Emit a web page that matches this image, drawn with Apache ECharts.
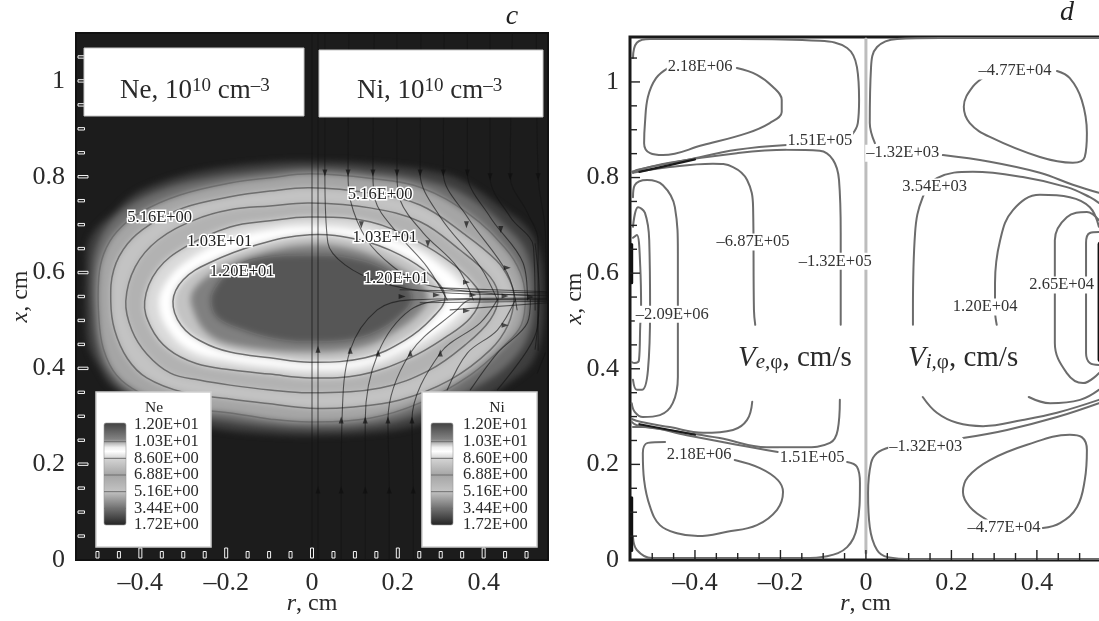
<!DOCTYPE html>
<html><head><meta charset="utf-8">
<script src="https://cdn.jsdelivr.net/npm/echarts@6/dist/echarts.min.js"></script>
<style>
html,body{margin:0;padding:0;background:#fff;overflow:hidden}
#page{position:relative;width:1099px;height:621px;background:#fff;overflow:hidden}
#fieldWrap{position:absolute;left:76px;top:33px;width:472px;height:527px;background:#1c1c1c;overflow:hidden}
#fieldChart{width:472px;height:527px;filter:blur(3px)}
#main{position:absolute;left:0;top:0;width:1099px;height:621px}
</style></head><body>
<div id="page"><div id="fieldWrap"><div id="fieldChart"></div></div><div id="main"></div></div>
<script>
// ---------- axis values ----------
const rTickLabels=[-0.4,-0.2,0,0.2,0.4];
const xTickLabels=[0,0.2,0.4,0.6,0.8,1];
const rMinorTicks=[-0.5,-0.45,-0.35,-0.3,-0.25,-0.15,-0.1,-0.05,0.05,0.1,0.15,0.25,0.3,0.35,0.45,0.5];
const xMinorTicks=[0.05,0.1,0.15,0.25,0.3,0.35,0.45,0.5,0.55,0.65,0.7,0.75,0.85,0.9,0.95,1.05];

// ---------- panel c: density contours (r, x), outermost first ----------
const ringO=[[0,.832],[-.105,.829],[-.245,.814],[-.338,.793],[-.417,.762],[-.464,.724],[-.5,.695],[-.522,.66],[-.527,.6],[-.527,.5],[-.522,.45],[-.5,.407],[-.464,.361],[-.35,.305],[-.231,.275],[-.105,.263],[0,.26],[.13,.265],[.25,.282],[.38,.33],[.478,.382],[.515,.415],[.535,.47],[.54,.55],[.53,.64],[.5,.695],[.44,.737],[.36,.787],[.3,.808],[.15,.826]];
const ringOa=[[0,.818],[-.098,.813],[-.245,.797],[-.338,.777],[-.417,.745],[-.465,.71],[-.497,.665],[-.511,.61],[-.511,.52],[-.5,.44],[-.475,.39],[-.43,.35],[-.33,.31],[-.2,.29],[-.1,.279],[0,.274],[.13,.28],[.25,.305],[.38,.36],[.46,.41],[.505,.47],[.518,.55],[.505,.63],[.47,.68],[.36,.76],[.25,.795],[.13,.81]];
const ringL1=[[-.005,.806],[-.098,.798],[-.191,.787],[-.308,.762],[-.401,.725],[-.455,.685],[-.485,.64],[-.497,.59],[-.497,.507],[-.486,.44],[-.455,.385],[-.401,.349],[-.308,.319],[-.191,.307],[-.098,.294],[-.005,.288],[.135,.296],[.252,.328],[.369,.386],[.45,.449],[.488,.491],[.497,.549],[.485,.601],[.45,.651],[.369,.72],[.252,.778],[.135,.797]];
const ringL2=[[-.005,.777],[-.098,.77],[-.191,.758],[-.3,.735],[-.378,.7],[-.43,.66],[-.462,.606],[-.469,.54],[-.46,.48],[-.43,.42],[-.385,.38],[-.3,.35],[-.191,.336],[-.098,.326],[-.005,.317],[.089,.319],[.205,.334],[.322,.376],[.415,.438],[.457,.491],[.471,.549],[.46,.585],[.43,.625],[.357,.679],[.252,.741],[.135,.766]];
const ringL3=[[-.005,.745],[-.098,.739],[-.191,.731],[-.273,.71],[-.359,.668],[-.412,.612],[-.434,.54],[-.42,.48],[-.385,.43],[-.33,.39],[-.26,.375],[-.191,.365],[-.098,.355],[-.005,.349],[.159,.359],[.275,.397],[.357,.449],[.415,.501],[.434,.549],[.415,.591],[.345,.647],[.252,.706],[.135,.735]];
const ringL4=[[-.005,.716],[-.098,.708],[-.191,.695],[-.294,.654],[-.36,.606],[-.39,.54],[-.375,.485],[-.335,.44],[-.27,.41],[-.191,.397],[-.098,.388],[-.005,.38],[.112,.386],[.229,.422],[.31,.464],[.369,.505],[.392,.549],[.373,.58],[.322,.622],[.252,.662],[.135,.706]];
const ringW=[[-.005,.697],[-.1,.69],[-.2,.668],[-.29,.625],[-.34,.58],[-.357,.535],[-.335,.48],[-.28,.435],[-.19,.415],[-.1,.404],[-.005,.397],[.11,.403],[.22,.44],[.3,.48],[.35,.52],[.365,.549],[.35,.575],[.3,.615],[.24,.65],[.13,.685]];
const ringL5=[[-.005,.679],[-.128,.658],[-.24,.62],[-.3,.585],[-.324,.54],[-.305,.49],[-.255,.455],[-.191,.434],[-.098,.422],[-.005,.413],[.124,.422],[.217,.459],[.28,.505],[.31,.549],[.275,.595],[.205,.637],[.112,.668]];
const ringM=[[-.005,.658],[-.12,.64],[-.22,.605],[-.275,.565],[-.28,.53],[-.24,.47],[-.16,.445],[-.005,.434],[.12,.445],[.2,.48],[.255,.52],[.27,.549],[.25,.58],[.18,.62],[.09,.65]];
const ringL6=[[-.005,.637],[-.137,.628],[-.19,.605],[-.225,.57],[-.236,.54],[-.22,.505],[-.161,.48],[-.09,.462],[-.005,.455],[.112,.464],[.194,.501],[.233,.549],[.182,.601],[.089,.631]];
const fieldRings=[ringO,ringOa,ringL1,ringL2,ringL3,ringL4,ringW,ringL5,ringM,ringL6];
const fieldGrays=[62,108,165,195,178,218,255,195,128,86];
const contourRings=[ringL1,ringL2,ringL3,ringL4,ringL5,ringL6];

// panel c: streamlines (r, x)
const streamA=[[0,1.1],[0,0]];
const streamB=[[.014,1.1],[.014,0]];
const streamC=[[.03,1.1],[.03,.808],[.037,.662],[.077,.616],[.159,.58],[.275,.56],[.551,.553]];
const streamD=[[.086,1.1],[.084,.808],[.089,.752],[.128,.668],[.189,.612],[.252,.578],[.369,.56],[.551,.551]];
const streamE=[[.145,1.1],[.142,.808],[.147,.752],[.198,.683],[.268,.612],[.315,.543]];
const streamF=[[.198,1.1],[.198,.808],[.205,.752],[.259,.683],[.338,.612],[.376,.543]];
const streamG=[[.254,1.1],[.252,.808],[.299,.716],[.392,.612],[.432,.543]];
const streamH=[[.308,1.1],[.306,.808],[.362,.716],[.455,.599],[.478,.522]];
const streamI=[[.362,1.1],[.362,.808],[.415,.716],[.492,.62],[.502,.543]];
const streamJ=[[.415,1.1],[.415,.8],[.462,.716],[.516,.654],[.52,.522]];
const streamK=[[.467,1.1],[.462,.8],[.502,.725],[.527,.668],[.527,.438]];
const streamL=[[.523,1.1],[.527,.8],[.544,.683],[.546,.543]];
const streamM=[[.068,0],[.068,.146],[.07,.292],[.089,.438],[.152,.522],[.229,.543],[.551,.547]];
const streamN=[[.124,0],[.124,.146],[.124,.292],[.154,.432],[.229,.522],[.322,.543],[.551,.545]];
const streamP=[[.18,0],[.18,.146],[.177,.292],[.229,.432],[.338,.522],[.369,.543],[.551,.543]];
const streamQ=[[.236,0],[.236,.146],[.233,.292],[.299,.432],[.392,.495],[.432,.543]];
const streamR=[[.315,.355],[.362,.432],[.432,.48],[.474,.543]];
const streamS=[[.369,.355],[.432,.432],[.502,.495],[.509,.543]];
const streamT=[[.432,.355],[.502,.438],[.525,.486],[.527,.543]];
const streamU=[[.525,.39],[.544,.432]];
const streamV=[[.205,.564],[.551,.557]];
const streamW=[[.299,.568],[.551,.56]];
const streamX=[[.252,.537],[.551,.54]];
const streamY=[[.322,.522],[.551,.537]];
const streamZ=[[.52,.66],[.53,.55],[.52,.44]];
const streams=[streamA,streamB,streamC,streamD,streamE,streamF,streamG,streamH,streamI,streamJ,streamK,streamL,streamM,streamN,streamP,streamQ,streamR,streamS,streamT,streamU,streamV,streamW,streamX,streamY,streamZ];
const arrowsDown=[[.03,.808],[.084,.808],[.142,.808],[.198,.808],[.252,.808],[.306,.808],[.362,.808],[.415,.8],[.462,.8],[.527,.8],[.115,.7],[.27,.66],[.36,.7],[.44,.69]];
const arrowsUp=[[.014,.146],[.068,.146],[.124,.146],[.18,.146],[.236,.146],[.068,.292],[.124,.292],[.177,.292],[.233,.292],[.014,.44],[.089,.438],[.154,.432],[.229,.432],[.299,.432]];
const arrowsRight=[[.29,.553],[.375,.553],[.45,.551],[.51,.549],[.36,.58],[.455,.61],[.36,.52],[.45,.49],[.21,.55]];
const cLabels=[["5.16E+00",-.355,.714],["1.03E+01",-.215,.664],["1.20E+01",-.163,.601],["5.16E+00",.159,.762],["1.03E+01",.17,.672],["1.20E+01",.196,.587]];

// legends of panel c
const legendLabels=["1.20E+01","1.03E+01","8.60E+00","6.88E+00","5.16E+00","3.44E+00","1.72E+00"];
const legendStops=[[0,'#414141'],[0.16,'#828282'],[0.24,'#f0f0f0'],[0.28,'#ffffff'],[0.34,'#d7d7d7'],[0.51,'#a5a5a5'],[0.67,'#c3c3c3'],[0.83,'#737373'],[1,'#232323']];

// ---------- panel d: contour lines (r, x) ----------
const loopEUp=[[-.463,1.029],[-.491,1.008],[-.51,.969],[-.517,.914],[-.519,.872],[-.505,.851],[-.475,.847],[-.381,.868],[-.278,.893],[-.225,.914],[-.197,.937],[-.197,.962],[-.218,.99],[-.255,1.015],[-.302,1.029]];
const loopEDown=[[-.47,.247],[-.51,.245],[-.522,.224],[-.519,.167],[-.505,.111],[-.482,.073],[-.442,.056],[-.393,.05],[-.325,.059],[-.255,.073],[-.208,.105],[-.194,.142],[-.206,.167],[-.248,.192],[-.307,.209]];
const e151Up=[[-.545,1.05],[-.536,1.082],[-.505,1.09],[-.302,1.09],[-.108,1.086],[-.044,1.071],[-.021,1.031],[-.016,.962],[-.019,.914],[-.033,.889]];
const e151UpB=[[-.185,.868],[-.302,.858],[-.419,.837],[-.536,.816],[-.545,.81]];
const e151Down=[[-.545,.048],[-.536,.021],[-.501,.004],[-.342,.004],[-.147,.004],[-.091,.008],[-.044,.027],[-.021,.069],[-.014,.161],[-.021,.195],[-.044,.205]];
const e151DownB=[[-.206,.226],[-.302,.241],[-.419,.261],[-.522,.278],[-.545,.278]];
const e132Up=[[-.548,.812],[-.459,.831],[-.302,.851],[-.185,.858],[-.108,.856],[-.077,.837],[-.063,.795],[-.059,.684],[-.059,.523],[-.059,.492]];
const e132Down=[[-.061,.335],[-.066,.272],[-.084,.245],[-.147,.236],[-.232,.236],[-.342,.255],[-.435,.268],[-.536,.282],[-.548,.289]];
const e687Up=[[-.545,.81],[-.459,.822],[-.358,.829],[-.311,.822],[-.278,.795],[-.264,.738],[-.262,.523],[-.259,.492]];
const e687Down=[[-.266,.331],[-.278,.293],[-.311,.272],[-.381,.266],[-.459,.278],[-.528,.289],[-.548,.295]];
const eRing3=[[-.545,.759],[-.541,.784],[-.512,.795],[-.475,.784],[-.447,.738],[-.44,.642],[-.44,.523],[-.44,.383],[-.452,.328],[-.482,.303],[-.522,.299],[-.541,.31],[-.548,.328]];
const eRing4=[[-.545,.697],[-.533,.738],[-.517,.726],[-.507,.669],[-.505,.523],[-.51,.397],[-.524,.356],[-.536,.356],[-.545,.377]];
const eRing5=[[-.545,.674],[-.536,.68],[-.528,.613],[-.526,.523],[-.528,.492],[-.531,.418],[-.541,.412],[-.548,.414]];
const loopIUp=[[.285,1.015],[.25,.99],[.229,.948],[.243,.914],[.29,.885],[.407,.843],[.484,.831],[.512,.843],[.517,.893],[.505,.962],[.477,1.008],[.447,1.023]];
const loopIDown=[[.414,.067],[.454,.077],[.494,.111],[.512,.167],[.517,.23],[.505,.257],[.477,.262],[.377,.241],[.29,.209],[.239,.174],[.227,.142],[.243,.111],[.283,.084]];
const i132Up=[[.021,.872],[.009,.914],[.012,1.031],[.026,1.073],[.073,1.09],[.173,1.092],[.545,1.092]];
const i132UpB=[[.18,.847],[.29,.833],[.407,.81],[.484,.785],[.545,.768]];
const i132Down=[[.056,.236],[.026,.224],[.012,.203],[.005,.14],[.009,.069],[.026,.021],[.051,.006],[.11,.002],[.545,.002]];
const i132DownB=[[.227,.255],[.33,.272],[.447,.299],[.545,.328]];
const i354Up=[[.11,.492],[.11,.523],[.115,.684],[.133,.759],[.166,.799],[.25,.812],[.367,.801],[.47,.78],[.524,.759],[.545,.747]];
const i354Down=[[.133,.341],[.166,.308],[.213,.287],[.274,.28],[.367,.293],[.447,.308],[.545,.335]];
const i120Up=[[.306,.492],[.302,.523],[.302,.579],[.314,.669],[.344,.732],[.407,.764],[.477,.759],[.524,.738],[.545,.697]];
const i120Down=[[.381,.341],[.431,.328],[.501,.335],[.545,.356]];
const i265=[[.545,.711],[.517,.728],[.47,.717],[.442,.669],[.442,.523],[.442,.454],[.47,.391],[.508,.37],[.545,.391]];
const iInner=[[.545,.686],[.524,.684],[.515,.663],[.515,.433],[.524,.412],[.545,.408]];
const wallRight=[[.549,.66],[.549,.42]];
const wallLeftUp=[[-.548,.66],[-.548,.58]];
const wallLeftDown=[[-.548,.13],[-.548,.02]];
const mergeUp=[[-.53,.812],[-.4,.838]];
const mergeDown=[[-.53,.284],[-.4,.262]];
const axisLineD=[[0,1.09],[0,.015]];
const dCurves=[loopEUp,loopEDown,e151Up,e151UpB,e151Down,e151DownB,e132Up,e132Down,e687Up,e687Down,eRing3,eRing4,eRing5,loopIUp,loopIDown,i132Up,i132UpB,i132Down,i132DownB,i354Up,i354Down,i120Up,i120Down,i265,iInner];
const dLabels=[["2.18E+06",-.388,1.031],["1.51E+05",-.108,.878],["–1.32E+03",.086,.851],["3.54E+03",.161,.78],["–6.87E+05",-.264,.665],["–1.32E+05",-.072,.625],["–4.77E+04",.349,1.023],["2.65E+04",.458,.575],["1.20E+04",.279,.529],["–2.09E+06",-.453,.514],["2.18E+06",-.39,.22],["1.51E+05",-.126,.215],["–1.32E+03",.14,.238],["–4.77E+04",.323,.067]];

// ---------- helpers ----------
const SERIF='"Liberation Serif","DejaVu Serif",serif';
const gray=v=>`rgb(${v},${v},${v})`;
const commonAxisText={fontFamily:SERIF,fontSize:26,color:'#2a2a2a'};
const fmt=v=>v===0?'0':(v<0?'–':'')+String(Math.abs(v));

function ringSeries(ring,style,z,ax){
  return {type:'custom',xAxisIndex:ax,yAxisIndex:ax,silent:true,z,clip:true,animation:false,
    data:[ring[0]],
    renderItem:(p,api)=>({type:'polygon',shape:{points:ring.map(q=>api.coord(q)),smooth:0.38},style})};
}
function lineSeries(points,color,width,z,ax,smooth){
  return {type:'line',xAxisIndex:ax,yAxisIndex:ax,data:points,showSymbol:false,symbol:'none',smooth:smooth===undefined?0.4:smooth,silent:true,z,animation:false,
    lineStyle:{color,width,cap:'round'}};
}
function arrowSeries(points,rotate,ax){
  return {type:'scatter',xAxisIndex:ax,yAxisIndex:ax,data:points,symbol:'triangle',symbolSize:[5,7],symbolRotate:rotate,silent:true,z:6,animation:false,itemStyle:{color:'rgba(15,15,15,.85)'}};
}
function textSeries(items,style,ax,z){
  return {type:'custom',xAxisIndex:ax,yAxisIndex:ax,silent:true,z,clip:false,animation:false,
    data:items.map(t=>[t[1],t[2]]),
    renderItem:(p,api)=>{const c=api.coord([api.value(0),api.value(1)]);
      return {type:'text',x:c[0],y:c[1],style:Object.assign({text:items[p.dataIndex][0],align:'center',verticalAlign:'middle',font:'16.5px '+SERIF},style)};}};
}
function tickC(values,isR,major,ax){
  return {type:'custom',xAxisIndex:ax,yAxisIndex:ax,silent:true,z:7,clip:false,animation:false,
    data:values.map(v=>isR?[v,0]:[-.55,v]),
    renderItem:(p,api)=>{const c=api.coord([api.value(0),api.value(1)]);const L=major?10:6.5;
      const shape=isR?{x:c[0]-1.5,y:c[1]-2-L,width:3,height:L}:{x:c[0]+2,y:c[1]-1.2,width:L,height:2.4};
      return {type:'rect',shape,style:{fill:'#1c1c1c',stroke:'#f4f4f4',lineWidth:1}};}};
}
function tickD(values,isR,major,ax){
  return {type:'custom',xAxisIndex:ax,yAxisIndex:ax,silent:true,z:7,clip:false,animation:false,
    data:values.map(v=>isR?[v,0]:[-.552,v]),
    renderItem:(p,api)=>{const c=api.coord([api.value(0),api.value(1)]);const L=major?10:7;
      const shape=isR?{x1:c[0],y1:c[1],x2:c[0],y2:c[1]-L}:{x1:c[0],y1:c[1],x2:c[0]+L,y2:c[1]};
      return {type:'line',shape,style:{stroke:'#222',lineWidth:1.4}};}};
}
function xAxisOf(min,max,idx){
  return {type:'value',gridIndex:idx,min,max,splitLine:{show:false},axisTick:{show:false},axisLine:{show:false},
    axisLabel:Object.assign({customValues:rTickLabels,formatter:fmt,margin:10,showMinLabel:true,showMaxLabel:true},commonAxisText),
    name:'{it|r}, cm',nameLocation:'middle',nameGap:32,nameMoveOverlap:false,
    nameTextStyle:{fontFamily:SERIF,fontSize:24,color:'#2a2a2a',rich:{it:{fontFamily:SERIF,fontSize:24,fontStyle:'italic',color:'#2a2a2a'}}}};
}
function yAxisOf(min,max,idx){
  return {type:'value',gridIndex:idx,min,max,splitLine:{show:false},axisTick:{show:false},axisLine:{show:false},
    axisLabel:Object.assign({customValues:xTickLabels,formatter:fmt,margin:11,padding:[3,0,0,0]},commonAxisText),
    name:'{it|x}, cm',nameLocation:'middle',nameGap:43,nameMoveOverlap:false,
    nameTextStyle:{fontFamily:SERIF,fontSize:24,color:'#2a2a2a',rich:{it:{fontFamily:SERIF,fontSize:24,fontStyle:'italic',color:'#2a2a2a'}}}};
}

// ---------- blurred density field ----------
const fieldChart=echarts.init(document.getElementById('fieldChart'),null,{width:472,height:527});
fieldChart.setOption({animation:false,
  grid:{left:0,top:0,width:472,height:527,show:false,outerBoundsMode:'none'},
  xAxis:{type:'value',min:-.55,max:.55,show:false},
  yAxis:{type:'value',min:0,max:1.1,show:false},
  series:fieldRings.map((r,i)=>ringSeries(r,{fill:gray(fieldGrays[i])},i+1,0))
});

// ---------- main chart ----------
const chart=echarts.init(document.getElementById('main'),null,{width:1099,height:621});
const series=[];
contourRings.forEach(r=>series.push(ringSeries(r,{fill:null,stroke:'#6e6e6e',lineWidth:1.5},2,0)));
streams.forEach(s=>series.push(lineSeries(s,'rgba(20,20,20,.62)',1.1,3,0,0.35)));
series.push(arrowSeries(arrowsDown,180,0),arrowSeries(arrowsUp,0,0),arrowSeries(arrowsRight,-90,0));
series.push(tickC(rMinorTicks,true,false,0),tickC(rTickLabels,true,true,0),tickC(xMinorTicks,false,false,0),tickC(xTickLabels.filter(v=>v>0),false,true,0));
series.push(textSeries(cLabels,{fill:'#222',stroke:'#fff',lineWidth:3},0,8));

series.push(lineSeries(axisLineD,'#bdbdbd',3,1,1,false));
dCurves.forEach(c=>series.push(lineSeries(c,'#6c6c6c',2,2,1)));
[mergeUp,mergeDown].forEach(c=>series.push(lineSeries(c,'#1a1a1a',2.2,3,1,false)));
[wallLeftUp,wallLeftDown].forEach(c=>series.push(lineSeries(c,'#111',3,3,1,false)));
series.push(lineSeries(wallRight,'#111',6,3,1,false));
series.push(tickD(rMinorTicks,true,false,1),tickD(rTickLabels,true,true,1),tickD(xMinorTicks,false,false,1),tickD(xTickLabels.filter(v=>v>0),false,true,1));
series.push(textSeries(dLabels,{fill:'#333',backgroundColor:'#fff',padding:[0,1]},1,8));

// annotation graphics
const Z=100;
const box=(x,y,w,h)=>({type:'rect',z:Z,silent:true,shape:{x,y,width:w,height:h},style:{fill:'#fff',stroke:'#c8c8c8',lineWidth:1}});
const tText=(x,y,text,rich,extra)=>({type:'text',z:Z+1,silent:true,x,y,style:Object.assign({text,rich,font:'27px '+SERIF,fill:'#2a2a2a',align:'left',verticalAlign:'middle'},extra||{})});
const supRich={a:{fontFamily:SERIF,fontSize:27,color:'#2a2a2a'},s:{fontFamily:SERIF,fontSize:19,color:'#2a2a2a',verticalAlign:'top',lineHeight:28}};
const velRich={i:{fontFamily:SERIF,fontSize:29,fontStyle:'italic',color:'#2a2a2a'},b:{fontFamily:SERIF,fontSize:21,fontStyle:'italic',color:'#2a2a2a',verticalAlign:'bottom',lineHeight:30},p:{fontFamily:SERIF,fontSize:21,color:'#2a2a2a',verticalAlign:'bottom',lineHeight:30},t:{fontFamily:SERIF,fontSize:29,color:'#2a2a2a'}};
const graphics=[
  box(84,48,220,68),box(319,50,224,67),
  tText(120,91,'{a|Ne, 10}{s|10}{a| cm}{s|–3}',supRich),
  tText(357,91,'{a|Ni, 10}{s|10}{a| cm}{s|–3}',supRich),
  tText(738,358,'{i|V}{b|e,}{p|φ}{t|, cm/s}',velRich),
  tText(908,358,'{i|V}{b|i,}{p|φ}{t|, cm/s}',velRich),
  {type:'text',z:Z+1,silent:true,x:512,y:17,style:{text:'c',font:'italic 28px '+SERIF,fill:'#222',align:'center',verticalAlign:'middle'}},
  {type:'text',z:Z+1,silent:true,x:1067,y:13,style:{text:'d',font:'italic 28px '+SERIF,fill:'#222',align:'center',verticalAlign:'middle'}}
];
function legendBox(name,x,barX,labelX,titleX){
  graphics.push({type:'rect',z:Z,silent:true,shape:{x,y:392,width:115,height:155},style:{fill:'#fff',stroke:'#cfcfcf',lineWidth:1.5}});
  graphics.push({type:'text',z:Z+1,silent:true,x:titleX,y:408,style:{text:name,font:'15.5px '+SERIF,fill:'#222',align:'center',verticalAlign:'middle'}});
  graphics.push({type:'rect',z:Z+1,silent:true,shape:{x:barX,y:423,width:22,height:102,r:2},
    style:{fill:new echarts.graphic.LinearGradient(0,0,0,1,legendStops.map(s=>({offset:s[0],color:s[1]}))),stroke:'#999',lineWidth:.6}});
  legendLabels.forEach((t,i)=>{
    const y=425+i*16.67;
    graphics.push({type:'text',z:Z+1,silent:true,x:labelX,y,style:{text:t,font:'16.5px '+SERIF,fill:'#2a2a2a',align:'left',verticalAlign:'middle'}});
    if(i>0&&i<6) graphics.push({type:'line',z:Z+2,silent:true,shape:{x1:barX,y1:y,x2:barX+22,y2:y},style:{stroke:'#6f6f6f',lineWidth:1}});
  });
}
legendBox('Ne',96,104,134,154);
legendBox('Ni',422,431,463,497);

chart.setOption({animation:false,
  textStyle:{fontFamily:SERIF},
  grid:[
    {left:76,top:33,width:472,height:527,show:true,backgroundColor:'transparent',borderColor:'#111',borderWidth:2,outerBoundsMode:'none'},
    {left:630,top:37,width:471,height:523,show:true,backgroundColor:'transparent',borderColor:'#1a1a1a',borderWidth:3,outerBoundsMode:'none'}
  ],
  xAxis:[xAxisOf(-.55,.55,0),xAxisOf(-.552,.55,1)],
  yAxis:[yAxisOf(0,1.1,0),yAxisOf(0,1.094,1)],
  series,
  graphic:{elements:graphics}
});
</script>
</body></html>
